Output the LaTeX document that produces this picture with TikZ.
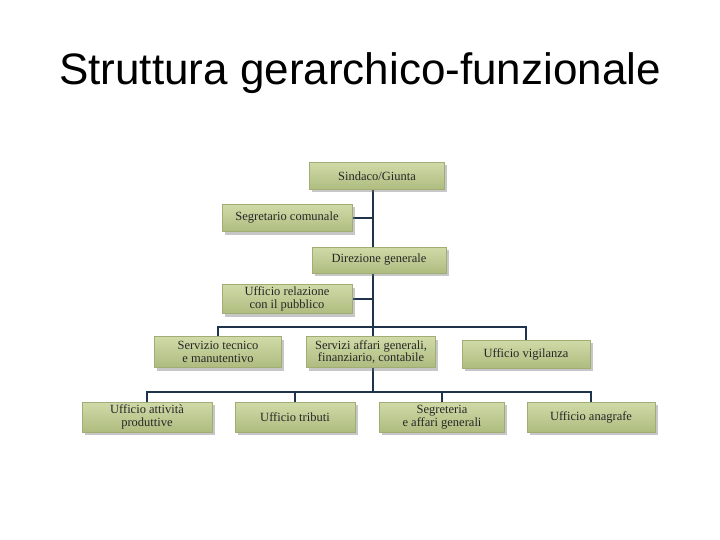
\documentclass[tikz,border=0pt]{standalone}
\usepackage{fontspec}
\setmainfont{Liberation Serif}
\newfontfamily\titlefont{Liberation Sans}
\usetikzlibrary{shadows,backgrounds}

\definecolor{boxtop}{HTML}{D0DAA8}
\definecolor{boxbot}{HTML}{AEBC7F}
\definecolor{boxline}{HTML}{A0AD74}
\definecolor{linkblue}{HTML}{1F334C}

\tikzset{
  ufficio/.style={rectangle, draw=boxline, line width=0.6pt, top color=boxtop, bottom color=boxbot,
    align=center, inner sep=0pt, font=\fontsize{12.5}{12.5}\selectfont, text=black!85,
    drop shadow={shadow xshift=2.5pt, shadow yshift=-3pt, fill=black!55, opacity=0.4}},
  link/.style={draw=linkblue, line width=1.7pt}
}

\begin{document}
\begin{tikzpicture}[x=1pt,y=-1pt]

	%The page
	\useasboundingbox (0,0) rectangle (720,540);

	\node[font=\titlefont\fontsize{44}{48}\selectfont] (titolo) at (360,73) {Struttura gerarchico-funzionale};

	%The top column
	\node[ufficio, minimum width=135, minimum height=27] (sind) at (377,176) {Sindaco/Giunta};
	\node[ufficio, minimum width=130, minimum height=27] (segr) at (287,218) {Segretario comunale};
	\node[ufficio, minimum width=134, minimum height=26] (dir) at (379,260) {Direzione generale};
	\node[ufficio, minimum width=130, minimum height=29] (urp) at (287,299) {Ufficio relazione\\con il pubblico};

	\coordinate (t1) at (373,327);
	\coordinate (t2) at (373,392);

	%The services
	\node[ufficio, minimum width=127, minimum height=31] (tecn) at (218,352) {Servizio tecnico\\e manutentivo};
	\node[ufficio, minimum width=129, minimum height=31] (affari) at (371,352) {Servizi affari generali,\\finanziario, contabile};
	\node[ufficio, minimum width=128, minimum height=28] (vigil) at (526,354) {Ufficio vigilanza};

	%The offices
	\node[ufficio, minimum width=130, minimum height=30] (attiv) at (147,417) {Ufficio attività\\produttive};
	\node[ufficio, minimum width=120, minimum height=30] (tribu) at (295,417) {Ufficio tributi};
	\node[ufficio, minimum width=125, minimum height=30] (segaff) at (442,417) {Segreteria\\e affari generali};
	\node[ufficio, minimum width=128, minimum height=30] (anagr) at (591,417) {Ufficio anagrafe};

	%The links, behind the boxes
	\begin{scope}[on background layer]
	\draw[link] (sind.south -| t1) -- (t1);
	\draw[link] (segr.east) -- (segr.east -| t1);
	\draw[link] (urp.east) -- (urp.east -| t1);
	\draw[link] (tecn.north) -- (tecn.north |- t1) -- (vigil.north |- t1) -- (vigil.north);
	\draw[link] (t1) -- (affari.north -| t1);
	\draw[link] (affari.south -| t2) -- (t2);
	\draw[link] (attiv.north) -- (attiv.north |- t2) -- (anagr.north |- t2) -- (anagr.north);
	\draw[link] (tribu.north) -- (tribu.north |- t2);
	\draw[link] (segaff.north) -- (segaff.north |- t2);
	\end{scope}

\end{tikzpicture}
\end{document}
